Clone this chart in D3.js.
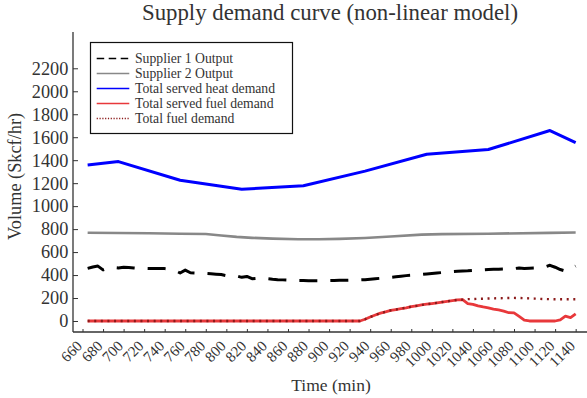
<!DOCTYPE html>
<html>
<head>
<meta charset="utf-8">
<script src="https://cdn.jsdelivr.net/npm/d3@7"></script>
<style>
  html, body { margin: 0; padding: 0; background: #fff; }
  svg { display: block; }
  text { font-family: "Liberation Serif", "Times New Roman", serif; fill: #333; }
</style>
</head>
<body>
<div id="chart"></div>
<script>
// ---- data -------------------------------------------------------------
// 5-minute sampling grid for the dispatch results (min)
const sampleTimes = d3.range(665, 1141, 5);

// Supplier 1 output (Skcf/hr) on the 5-minute grid
const supplier1 = [
  458, 470, 478, 445, 462, 466, 462, 468, 465, 462,
  458, 458, 457, 458, 457, 456, 450, 440, 418, 443,
  420, 418, 417, 415, 412, 408, 404, 395, 388, 392,
  380, 388, 368, 372, 366, 368, 363, 360, 358, 356,
  354, 352, 352, 350, 350, 350, 352, 352, 353, 354,
  355, 356, 357, 358, 360, 364, 368, 372, 376, 380,
  385, 390, 395, 398, 402, 405, 410, 414, 418, 422,
  426, 430, 433, 436, 438, 441, 443, 445, 448, 450,
  450, 452, 454, 456, 462, 458, 460, 462, 462, 470,
  485, 468, 448, 435, 452, 478
];

// Total served fuel demand (Skcf/hr) on the 5-minute grid
const servedFuel = [
  0, 0, 0, 0, 0, 0, 0, 0, 0, 0,
  0, 0, 0, 0, 0, 0, 0, 0, 0, 0,
  0, 0, 0, 0, 0, 0, 0, 0, 0, 0,
  0, 0, 0, 0, 0, 0, 0, 0, 0, 0,
  0, 0, 0, 0, 0, 0, 0, 0, 0, 0,
  0, 0, 0, 0, 15, 35, 52, 68, 80, 92,
  100, 108, 115, 125, 132, 140, 146, 152, 158, 165,
  171, 178, 184, 186, 152, 145, 132, 122, 115, 104,
  96, 86, 72, 70, 40, 8, 0, 0, 0, 0,
  0, 0, 10, 42, 30, 62
];

// Total fuel demand (Skcf/hr) on the 5-minute grid
const totalFuel = [
  0, 0, 0, 0, 0, 0, 0, 0, 0, 0,
  0, 0, 0, 0, 0, 0, 0, 0, 0, 0,
  0, 0, 0, 0, 0, 0, 0, 0, 0, 0,
  0, 0, 0, 0, 0, 0, 0, 0, 0, 0,
  0, 0, 0, 0, 0, 0, 0, 0, 0, 0,
  0, 0, 0, 0, 15, 35, 52, 68, 80, 92,
  100, 108, 115, 125, 132, 140, 146, 152, 158, 165,
  171, 178, 184, 186, 190, 191, 193, 194, 196, 197,
  198, 199, 200, 201, 200, 199, 197, 195, 193, 191,
  190, 189, 189, 189, 189, 189
];

// Supplier 2 output (Skcf/hr)
const supplier2Times  = [665, 695, 725, 755, 780, 795, 810, 825, 845, 870, 890, 910, 935, 960, 990, 1010, 1055, 1115, 1140];
const supplier2Values = [768, 766, 764, 760, 757, 745, 732, 724, 717, 712, 712, 715, 723, 735, 752, 756, 760, 767, 770];

// Total served heat demand (Skcf/hr)
const heatTimes  = [665, 695, 755, 815, 875, 935, 995, 1055, 1115, 1140];
const heatValues = [1358, 1388, 1225, 1147, 1178, 1305, 1452, 1493, 1658, 1552];

// Axis ticks
const xTicks = d3.range(660, 1141, 20);
const yTicks = [0, 200, 400, 600, 800, 1000, 1200, 1400, 1600, 1800, 2000, 2200];

const legendLabels = [
  "Supplier 1 Output",
  "Supplier 2 Output",
  "Total served heat demand",
  "Total served fuel demand",
  "Total fuel demand"
];

// ---- layout -------------------------------------------------------------
const W = 587, H = 398;
const svg = d3.select("#chart").append("svg").attr("width", W).attr("height", H);

const x = d3.scaleLinear().domain([650.75, 1154.25]).range([73, 590.3]);
const y = d3.scaleLinear().domain([-95.8, 2516]).range([332, 32]);

// series definitions
const pair = (ts, vs) => ts.map((t, i) => [t, vs[i]]);
const series = [
  { name: legendLabels[0], pts: pair(sampleTimes, supplier1), color: "#000", width: 3, dash: "18,13", legendDash: "7.5,4.5", legendWidth: 1.6 },
  { name: legendLabels[1], pts: pair(supplier2Times, supplier2Values), color: "#888", width: 2.6, dash: null, legendWidth: 1.6 },
  { name: legendLabels[2], pts: pair(heatTimes, heatValues), color: "#0000ff", width: 3, dash: null, legendWidth: 1.6 },
  { name: legendLabels[3], pts: pair(sampleTimes, servedFuel), color: "#e8383b", width: 2.8, dash: null, legendWidth: 1.6 },
  { name: legendLabels[4], pts: pair(sampleTimes, totalFuel), color: "#8b1a1a", width: 2.4, dash: "2,4.6", legendDash: "1.2,1.6", legendWidth: 1.3 }
];

const line = d3.line().x(d => x(d[0])).y(d => y(d[1]));

// ---- axes -----------------------------------------------------------------
const yAxis = svg.append("g").attr("transform", "translate(73,0)")
  .call(d3.axisLeft(y).tickValues(yTicks).tickSize(-5).tickPadding(10).tickFormat(d3.format("d")));
yAxis.select(".domain").attr("d", "M0,32V332").attr("stroke", "#333").attr("stroke-width", 1.3);
yAxis.selectAll(".tick line").attr("stroke", "#333").attr("stroke-width", 1);
yAxis.selectAll(".tick text").attr("x", -4.7).attr("font-size", 18.3).style("fill", "#333")
  .attr("font-family", "Liberation Serif");

const xAxis = svg.append("g").attr("transform", "translate(0,332)")
  .call(d3.axisBottom(x).tickValues(xTicks).tickSize(-3).tickFormat(d3.format("d")));
xAxis.select(".domain").attr("d", "M73,0H587").attr("stroke", "#333").attr("stroke-width", 1.3);
xAxis.selectAll(".tick line").attr("stroke", "#333").attr("stroke-width", 1);
xAxis.selectAll(".tick text")
  .attr("font-size", 15).attr("font-family", "Liberation Serif").style("fill", "#333")
  .attr("text-anchor", "end")
  .attr("dy", null).attr("y", 0)
  .attr("transform", "translate(0,15) rotate(-45)");

// ---- lines ----------------------------------------------------------------
const plot = svg.append("g");
series.forEach(s => {
  plot.append("path")
    .attr("d", line(s.pts))
    .attr("fill", "none")
    .attr("stroke", s.color)
    .attr("stroke-width", s.width)
    .attr("stroke-linejoin", "round")
    .attr("stroke-dasharray", s.dash);
});

// ---- legend ---------------------------------------------------------------
const lg = svg.append("g");
lg.append("rect").attr("x", 90.5).attr("y", 42.5).attr("width", 202).attr("height", 91)
  .attr("fill", "#fff").attr("stroke", "#111").attr("stroke-width", 1.2);
series.forEach((s, i) => {
  const yy = 58.5 + i * 15;
  lg.append("line").attr("x1", 96.7).attr("x2", 129.3).attr("y1", yy).attr("y2", yy)
    .attr("stroke", s.color).attr("stroke-width", s.legendWidth)
    .attr("stroke-dasharray", s.legendDash || null);
  lg.append("text").attr("x", 135).attr("y", yy).attr("dy", "0.33em")
    .attr("font-size", 13.7).text(s.name);
});

// ---- titles ---------------------------------------------------------------
svg.append("text").attr("x", 330).attr("y", 19.5).attr("text-anchor", "middle")
  .attr("font-size", 22.8).text("Supply demand curve (non-linear model)");

svg.append("text").attr("x", 331).attr("y", 391).attr("text-anchor", "middle")
  .attr("font-size", 17.5).text("Time (min)");

svg.append("text").attr("transform", "translate(20.5,176.5) rotate(-90)")
  .attr("text-anchor", "middle").attr("font-size", 18.3).text("Volume (Skcf/hr)");
</script>
</body>
</html>
